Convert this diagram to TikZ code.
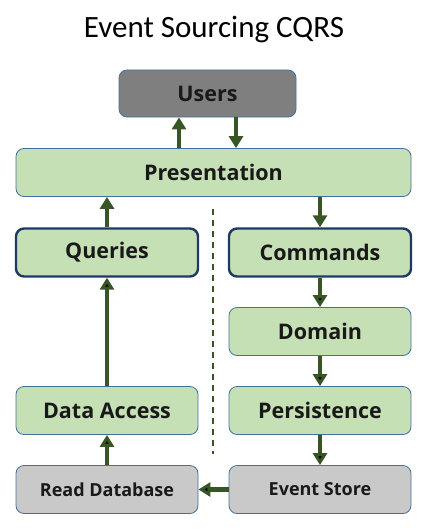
\documentclass[tikz,border=0pt]{standalone}
\usepackage{fontspec}
\setmainfont{Carlito}
\newfontfamily\labelfont{Open Sans}
\usetikzlibrary{positioning,arrows.meta}
\definecolor{boxgreen}{HTML}{C5E0B4}
\definecolor{boxgrey}{HTML}{C9C9C9}
\definecolor{usergrey}{HTML}{7F7F7F}
\definecolor{edgeblue}{HTML}{41719C}
\definecolor{navy}{HTML}{1F3864}
\definecolor{arrowgreen}{HTML}{375623}
\begin{document}
\begin{tikzpicture}[x=1pt,y=1pt,node distance=79pt,on grid,
		layer/.style={draw=edgeblue,line width=0.8pt,fill=boxgreen,rounded corners=8pt,
			minimum width=182pt,minimum height=48pt,inner sep=0pt,text=black!90,
			font=\labelfont\fontsize{21.5}{25}\selectfont\bfseries},
		side/.style={layer,draw=navy,line width=2.4pt},
		store/.style={layer,fill=boxgrey,font=\labelfont\fontsize{18}{22}\selectfont\bfseries},
		flow/.style={draw=arrowgreen,line width=4.5pt,-{Triangle[width=14pt,length=12pt]}}]
		\useasboundingbox (0,0) rectangle (429,-532);
		\node (title) at (214,-30) {\fontsize{31}{37}\selectfont Event Sourcing CQRS};
		\node[layer, minimum width=395pt] (pres) at (213.5,-172.5) {Presentation};
		\node[layer, fill=usergrey, minimum width=177pt, minimum height=47pt] (users) [above=79pt of pres, xshift=-6pt] {Users};
		\node[side] (queries) at (107,-252.5) {Queries};
		\node[side] (commands) at (320,-252.5) {Commands};
		\node[layer] (domain) [below=of commands] {Domain};
		\node[layer] (persist) [below=of domain] {Persistence};
		\node[store] (events) [below=of persist] {Event Store};
		\node[layer] (access) [below=158pt of queries] {Data Access};
		\node[store] (readdb) [below=of access] {Read Database};
		\coordinate (split top) at (213,-209);
		\coordinate (split bottom) at (213,-454);
		\draw[arrowgreen, line width=1.8pt, dash pattern=on 6pt off 5pt] (split top) -- (split bottom);
		\draw[flow] ([xshift=-28.5pt]users.south |- pres.north) -- ([xshift=-28.5pt]users.south);
		\draw[flow] ([xshift=28.5pt]users.south) -- ([xshift=28.5pt]users.south |- pres.north);
		\draw[flow] (queries.north) -- (queries.north |- pres.south);
		\draw[flow] (commands.north |- pres.south) -- (commands.north);
		\path[flow]
		(commands) edge (domain)
		(domain) edge (persist)
		(persist) edge (events)
		(events) edge (readdb)
		(readdb) edge (access)
		(access) edge (queries);
	\end{tikzpicture}
\end{document}
